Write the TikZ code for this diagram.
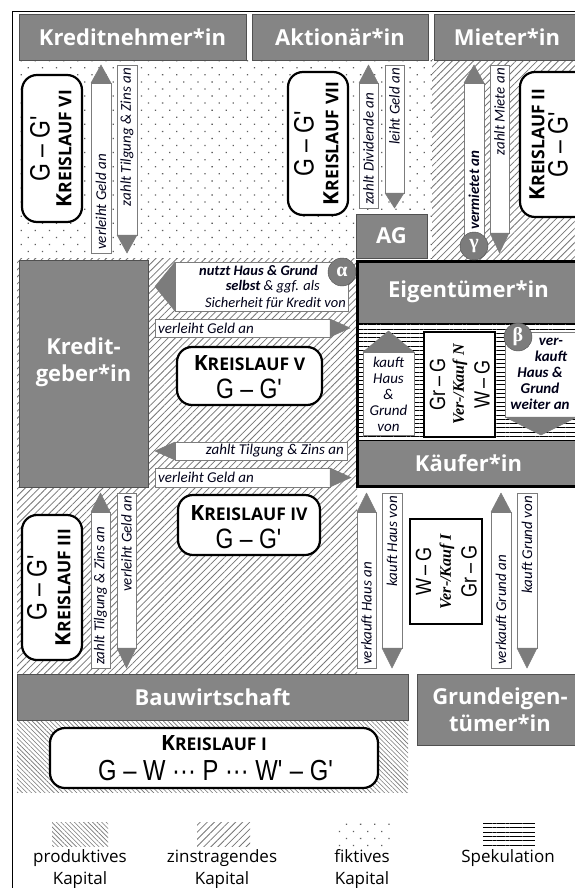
\documentclass[tikz,border=0pt]{standalone}
\usepackage{fontspec}
\setmainfont{Open Sans}
\newfontfamily\lblfont{Carlito}
\newfontfamily\narrowfont[FakeStretch=0.82]{Liberation Sans}
\newfontfamily\serffont{Liberation Serif}
\usetikzlibrary{patterns.meta}
\definecolor{boxgray}{HTML}{858585}
\definecolor{edgegray}{HTML}{505050}
\definecolor{hatchgray}{HTML}{767676}
\definecolor{dotgray}{HTML}{5E5E5E}
\definecolor{headgray}{HTML}{7C7C7C}
\tikzset{
 hdr/.style={draw=edgegray,fill=boxgray,line width=0.9pt},
 hdrtext/.style={text=white,font=\bfseries\fontsize{22}{27}\selectfont,align=center,inner sep=0pt},
 klbox/.style={draw=black,fill=white,line width=2.2pt,rounded corners=15pt},
 vkbox/.style={draw=black,fill=white,line width=1.8pt},
 shaft/.style={draw=headgray,fill=white,line width=0.7pt},
 head/.style={draw=headgray,fill=headgray,line width=0.5pt,line join=round},
 lbl/.style={font=\lblfont\itshape\fontsize{15}{16}\selectfont,inner sep=0pt,text=black!90!blue},
 blbl/.style={font=\lblfont\bfseries\itshape\fontsize{15}{16}\selectfont,inner sep=0pt,text=black!90!blue},
 greek/.style={circle,draw=edgegray,fill=headgray,minimum size=28pt,inner sep=0pt,text=white,font=\serffont\bfseries\fontsize{20}{20}\selectfont},
 kltext/.style={font=\bfseries\fontsize{21}{21}\selectfont,inner sep=0pt},
 ggtext/.style={font=\narrowfont\fontsize{28}{30}\selectfont,inner sep=0pt},
 vktext/.style={font=\narrowfont\fontsize{22}{22}\selectfont,inner sep=0pt},
 vkname/.style={font=\serffont\bfseries\itshape\fontsize{16}{17}\selectfont,inner sep=0pt},
 legtext/.style={font=\fontsize{17}{22}\selectfont,align=center,inner sep=0pt},
 zins/.style={pattern={Lines[angle=45,distance=5pt,line width=0.8pt]},pattern color=hatchgray},
 prod/.style={pattern={Lines[angle=-45,distance=3.2pt,line width=0.6pt]},pattern color=hatchgray},
 fikt/.style={pattern={Dots[angle=45,distance=10pt,radius=0.9pt]},pattern color=dotgray},
 spek/.style={pattern={Lines[angle=0,distance=4.3pt,line width=0.8pt]},pattern color=black},
}
\newcommand\KLname[1]{K{\fontsize{17.5}{17.5}\selectfont #1}}
\newcommand\GGp{G – G\textquotesingle}
% vertical / horizontal block arrows
\newcommand\ArrUp[7]{%
 \draw[shaft] (#1,#4) rectangle (#2,#5);
 \draw[head] (#1,#4) -- (#2,#4) -- ({(#1+#2)/2},#3) -- cycle;
 \node[lbl,rotate=90,anchor=west] (#6) at ({(#1+#2)/2},{#5-3}) {#7};}
\newcommand\ArrDown[7]{%
 \draw[shaft] (#1,#3) rectangle (#2,#4);
 \draw[head] (#1,#4) -- (#2,#4) -- ({(#1+#2)/2},#5) -- cycle;
 \node[lbl,rotate=90,anchor=east] (#6) at ({(#1+#2)/2},{#3+3}) {#7};}
\newcommand\ArrLeft[7]{%
 \draw[shaft] (#2,#4) rectangle (#3,#5);
 \draw[head] (#2,#4) -- (#2,#5) -- (#1,{(#4+#5)/2}) -- cycle;
 \node[lbl,anchor=east] (#6) at ({#3-3},{(#4+#5)/2}) {#7};}
\newcommand\ArrRight[7]{%
 \draw[shaft] (#1,#4) rectangle (#2,#5);
 \draw[head] (#2,#4) -- (#2,#5) -- (#3,{(#4+#5)/2}) -- cycle;
 \node[lbl,anchor=west] (#6) at ({#1+3},{(#4+#5)/2}) {#7};}
\begin{document}
\begin{tikzpicture}[x=1pt,y=-1pt]
\useasboundingbox (0,0) rectangle (575,888);
\fill[white] (0,0) rectangle (575,888);
% ---------- capital regions ----------
\fill[fikt] (17,60) rectangle (432,258);
\fill[zins] (432,60) rectangle (580,261);
\fill[zins] (17,258) rectangle (357,673);
\fill[prod] (17,720) rectangle (408,792);
\fill[spek] (357,323) rectangle (580,440);
% frame
\draw[line width=1pt] (12.5,888) -- (12.5,11.5) -- (580,11.5);
% ---------- actor boxes ----------
\draw[hdr] (19,14) rectangle (246,60);
\node[hdrtext] (kn) at (132.5,37) {Kreditnehmer*in};
\draw[hdr] (252,14) rectangle (428,60);
\node[hdrtext] (ak) at (340,37) {Aktionär*in};
\draw[hdr] (434,14) rectangle (582,60);
\node[hdrtext] (mi) at (507,37) {Mieter*in};
\draw[hdr] (356,214) rectangle (427,258);
\node[hdrtext] (ag) at (391.5,236) {AG};
\draw[hdr] (19,260) rectangle (148,487);
\node[hdrtext] (kg) at (83.5,362) {Kredit-\\geber*in};
\draw[hdr,draw=black] (357,261) rectangle (582,323);
\node[hdrtext] (ei) at (468.5,292) {Eigentümer*in};
\draw[hdr,draw=black] (357,440) rectangle (582,486);
\node[hdrtext] (kf) at (468.5,463) {Käufer*in};
\draw[line width=3pt] (357,261) rectangle (585,486);
\draw[hdr] (17,674) rectangle (408,720);
\node[hdrtext] (bw) at (212.5,697) {Bauwirtschaft};
\draw[hdr] (417,674) rectangle (585,745);
\node[hdrtext] (ge) at (500,709.5) {Grundeigen-\\tümer*in};
% ---------- Kreislauf boxes ----------
\draw[klbox] (22,75) rectangle (82,222);
\node[ggtext,rotate=90] (k6a) at (40,148.5) {\GGp};
\node[kltext,rotate=90] (k6b) at (64,148.5) {\KLname{REISLAUF VI}};
\draw[klbox] (288,72) rectangle (348,215);
\node[ggtext,rotate=90] (k7a) at (304,143.5) {\GGp};
\node[kltext,rotate=90] (k7b) at (331,143.5) {\KLname{REISLAUF VII}};
\draw[klbox] (520,72) rectangle (592,217);
\node[kltext,rotate=90] (k2b) at (537,144.5) {\KLname{REISLAUF II}};
\node[ggtext,rotate=90] (k2a) at (558,144.5) {\GGp};
\draw[klbox] (177,347) rectangle (322,405);
\node[kltext] (k5b) at (249.5,363) {\KLname{REISLAUF V}};
\node[ggtext] (k5a) at (249.5,389) {\GGp};
\draw[klbox] (22,515) rectangle (82,660);
\node[ggtext,rotate=90] (k3a) at (37,587.5) {\GGp};
\node[kltext,rotate=90] (k3b) at (63,587.5) {\KLname{REISLAUF III}};
\draw[klbox] (178,495) rectangle (320,555);
\node[kltext] (k4b) at (249,513) {\KLname{REISLAUF IV}};
\node[ggtext] (k4a) at (249,539) {\GGp};
\draw[klbox] (50,728) rectangle (378,788);
\node[kltext] (k1b) at (214,743) {\KLname{REISLAUF I}};
\node[ggtext,font=\narrowfont\fontsize{29}{30}\selectfont] (k1a) at (216,771) {G – W ··· P ··· W\textquotesingle\ – G\textquotesingle};
% ---------- Ver-/Kauf boxes ----------
\draw[vkbox] (424,332) rectangle (495,437);
\node[vktext,rotate=90] (vna) at (437.5,384.5) {Gr\,–\,G};
\node[vkname,rotate=90] (vnb) at (460,384.5) {Ver-/Kauf N};
\node[vktext,rotate=90] (vnc) at (482,384.5) {W\,–\,G};
\draw[vkbox] (410,519) rectangle (482,624);
\node[vktext,rotate=90] (via) at (423.5,571.5) {W\,–\,G};
\node[vkname,rotate=90] (vib) at (447,571.5) {Ver-/Kauf I};
\node[vktext,rotate=90] (vic) at (469,571.5) {Gr\,–\,G};
% ---------- arrows: top row ----------
\ArrUp{91}{111}{65}{83}{253}{a1}{verleiht Geld an}
\ArrDown{117}{137}{65}{235}{253}{a2}{zahlt Tilgung \& Zins an}
\ArrUp{359}{378}{65}{83}{208}{a3}{zahlt Dividende an}
\ArrDown{385}{404}{65}{193}{208}{a4}{leiht Geld an}
\ArrUp{464}{484}{65}{83}{245}{a5}{}
\node[blbl,rotate=90,anchor=west] (a5t) at (474,230) {vermietet an};
\ArrDown{490}{509}{65}{233}{253}{a6}{zahlt Miete an}
% ---------- arrows: middle ----------
\draw[shaft] (175,262) rectangle (348,311);
\draw[head] (175,262) -- (175,311) -- (155,286.5) -- cycle;
\node[blbl,anchor=east,font=\lblfont\bfseries\itshape\fontsize{14.5}{16}\selectfont] (a7a) at (318,270.5) {nutzt Haus \& Grund};
\node[lbl,anchor=east,font=\lblfont\itshape\fontsize{14.5}{16}\selectfont] (a7b) at (320,287) {{\bfseries selbst} \& ggf. als};
\node[lbl,anchor=east,font=\lblfont\itshape\fontsize{14.5}{16}\selectfont] (a7c) at (346,303) {Sicherheit für Kredit von};
\ArrRight{155}{330}{350}{319}{337}{a8}{verleiht Geld an}
\ArrLeft{155}{175}{347}{442}{460}{a9}{zahlt Tilgung \& Zins an}
\ArrRight{155}{330}{351}{468}{487}{a10}{verleiht Geld an}
% Eigentuemer block arrows
\draw[shaft] (363,352) rectangle (414,435);
\draw[head] (363,352) -- (414,352) -- (388.5,331) -- cycle;
\node[lbl,align=center] (a11) at (388.5,394) {kauft\\Haus\\\&\\Grund\\von};
\draw[shaft] (505,332) rectangle (577,417);
\draw[head] (505,417) -- (577,417) -- (541,435) -- cycle;
\node[blbl,align=center] (a12) at (540,374) {\hspace*{22pt}ver-\\\hspace*{22pt}kauft\\Haus \&\\Grund\\weiter an};
% ---------- arrows: lower ----------
\ArrUp{91}{110}{493}{512}{668}{b1}{zahlt Tilgung \& Zins an}
\ArrDown{117}{136}{493}{648}{668}{b2}{verleiht Geld an}
\ArrUp{357}{376}{493}{512}{668}{b3}{verkauft Haus an}
\ArrDown{382}{402}{493}{648}{668}{b4}{kauft Haus von}
\ArrUp{491}{511}{493}{512}{668}{b5}{verkauft Grund an}
\ArrDown{517}{537}{493}{648}{668}{b6}{kauft Grund von}
% ---------- greek markers ----------
\node[greek] (gam) at (474,246) {γ};
\node[greek] (alp) at (342,272) {α};
\node[greek] (bet) at (518,337) {β};
% ---------- legend ----------
\fill[prod] (52,822) rectangle (108,846);
\node[legtext] (l1) at (80,869) {produktives\\Kapital};
\fill[zins] (197,822) rectangle (250,846);
\node[legtext] (l2) at (222,869) {zinstragendes\\Kapital};
\fill[fikt] (336,822) rectangle (390,846);
\node[legtext] (l3) at (362,869) {fiktives\\Kapital};
\fill[spek] (483,823) rectangle (535,846);
\node[legtext] (l4) at (508,858) {Spekulation};
\end{tikzpicture}
\end{document}
